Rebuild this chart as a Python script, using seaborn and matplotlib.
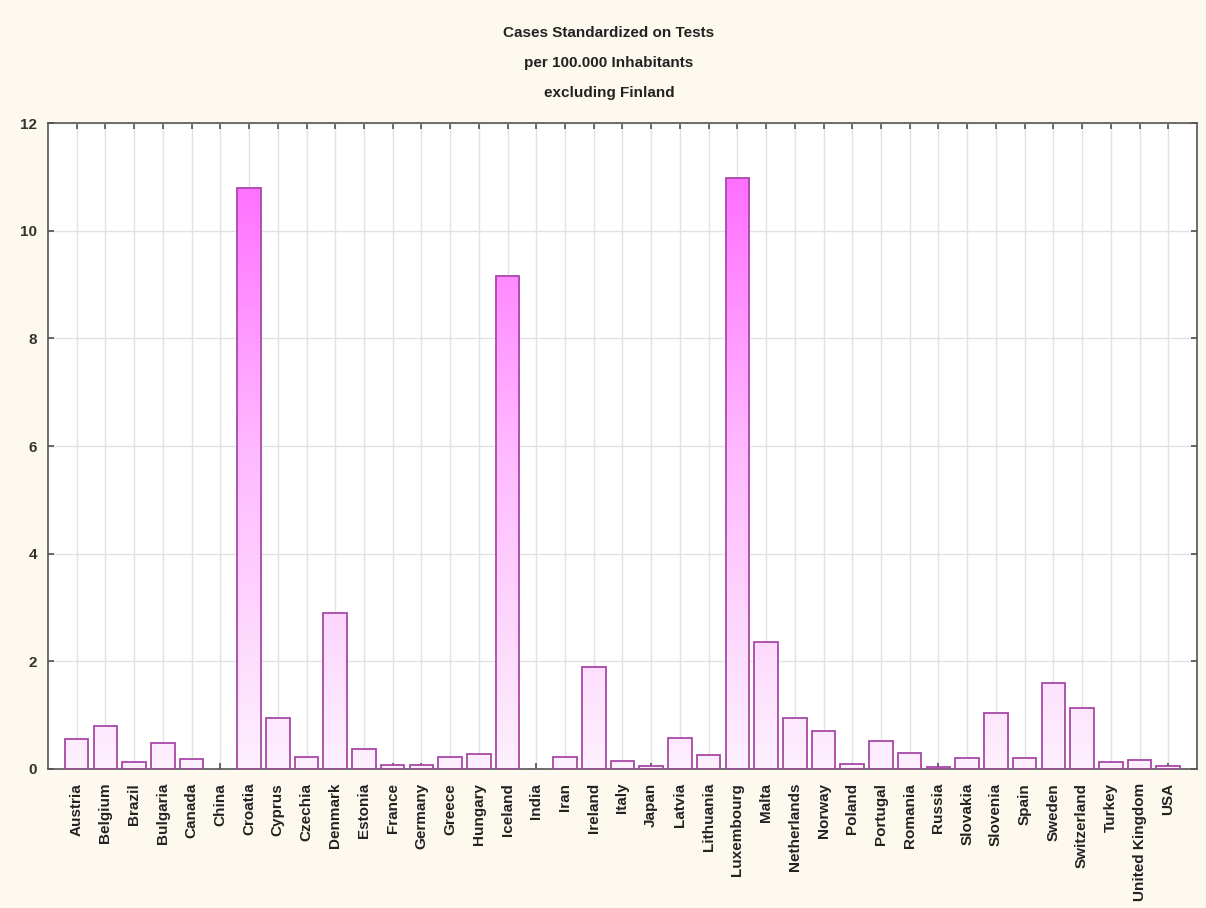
import numpy as np
import matplotlib
matplotlib.use("Agg")
import matplotlib.pyplot as plt
from matplotlib.colors import LinearSegmentedColormap
import seaborn as sns

# data
countries = ["Austria", "Belgium", "Brazil", "Bulgaria", "Canada", "China", "Croatia",
             "Cyprus", "Czechia", "Denmark", "Estonia", "France", "Germany", "Greece",
             "Hungary", "Iceland", "India", "Iran", "Ireland", "Italy", "Japan", "Latvia",
             "Lithuania", "Luxembourg", "Malta", "Netherlands", "Norway", "Poland",
             "Portugal", "Romania", "Russia", "Slovakia", "Slovenia", "Spain", "Sweden",
             "Switzerland", "Turkey", "United Kingdom", "USA"]
cases = [0.56, 0.80, 0.13, 0.48, 0.18, 0.0, 10.80,
         0.95, 0.22, 2.90, 0.37, 0.07, 0.07, 0.22,
         0.28, 9.16, 0.0, 0.22, 1.90, 0.15, 0.05, 0.58,
         0.26, 10.97, 2.36, 0.95, 0.70, 0.10,
         0.52, 0.30, 0.03, 0.20, 1.04, 0.20, 1.60,
         1.13, 0.13, 0.17, 0.05]
y_ticks = [0, 2, 4, 6, 8, 10, 12]
title_lines = ["Cases Standardized on Tests", "per 100.000 Inhabitants", "excluding Finland"]

sns.set_theme(style="white")
plt.rcParams["font.family"] = ["Liberation Sans", "DejaVu Sans"]

fig = plt.figure(figsize=(12.06, 9.08), dpi=100, facecolor="#fdf9ef")
ax = fig.add_axes([0.0398, 0.1531, 0.9527, 0.7114])
ax.set_facecolor("white")

sns.barplot(x=countries, y=cases, color="white", width=0.82, ax=ax)

ax.set_xlim(-1, len(countries))
ax.set_ylim(0, 12)

# vertical gradient: light pink at the base, magenta towards the top
grad_cmap = LinearSegmentedColormap.from_list("pinkgrad", ["#fdf0fd", "#ffb8ff", "#ff60ff"])
grad = np.linspace(0, 1, 256).reshape(-1, 1)
for bar in ax.patches:
    bar.set_facecolor("none")
    bar.set_edgecolor("#a848a8")
    bar.set_linewidth(1.3)
    bar.set_zorder(3)
    if bar.get_height() <= 0:
        bar.set_visible(False)
        continue
    im = ax.imshow(grad, cmap=grad_cmap, origin="lower", aspect="auto",
                   extent=(-1, len(countries), 0, 12), zorder=2)
    im.set_clip_path(bar)

ax.set_xlim(-1, len(countries))
ax.set_ylim(0, 12)

ax.grid(True, color="#e2e2e2", linewidth=1.0)
ax.set_axisbelow(True)
ax.set_yticks(y_ticks)
ax.set_yticklabels([str(t) for t in y_ticks], fontsize=11, fontweight="bold", color="#333333")
ax.set_xticks(range(len(countries)))
ax.set_xticklabels(countries, rotation=90, fontsize=11, fontweight="bold", color="#222222")
ax.tick_params(direction="in", length=4, color="#555555", top=True, right=True,
               bottom=True, left=True)
ax.tick_params(axis="x", pad=10)
ax.tick_params(axis="y", pad=8)
for s in ax.spines.values():
    s.set_color("#555555")
    s.set_linewidth(1.2)
ax.set_xlabel("")
ax.set_ylabel("")

for i, line in enumerate(title_lines):
    fig.text(0.505, 1 - (33 + 30 * i) / 908, line, ha="center", va="center",
             fontsize=11, fontweight="bold", color="#222222")

plt.savefig("out.png", dpi=100, facecolor=fig.get_facecolor())
plt.close()
